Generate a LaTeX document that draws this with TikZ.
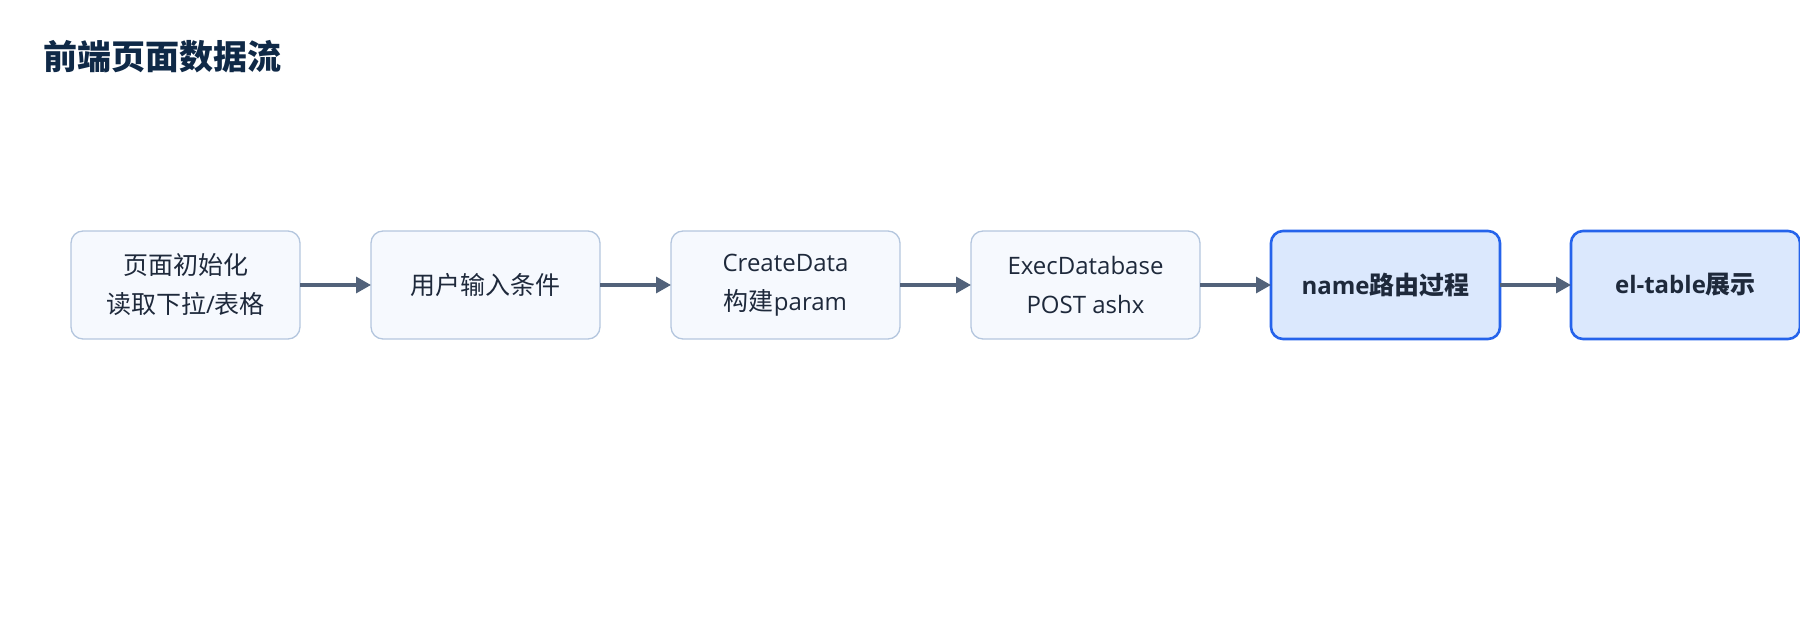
\documentclass[tikz,border=0pt]{standalone}
\usepackage{fontspec}
\setmainfont{Open Sans}
\newfontfamily\cjk{Noto Sans CJK SC}
\usetikzlibrary{positioning}
\usetikzlibrary{arrows.meta}
\definecolor{titleblue}{HTML}{0F2947}
\definecolor{ink}{HTML}{1E293B}
\definecolor{boxline}{HTML}{B4C6DE}
\definecolor{boxfill}{HTML}{F6F9FE}
\definecolor{hotline}{HTML}{2563EB}
\definecolor{hotfill}{HTML}{DBE8FD}
\definecolor{flowcol}{HTML}{52627A}
\newcommand{\zh}[1]{{\cjk\fontsize{25}{39}\selectfont #1}}

\begin{document}
\begin{tikzpicture}[x=1pt,y=-1pt,node distance=71pt,
  box/.style={draw=boxline,fill=boxfill,line width=1.3pt,rounded corners=12pt,
    minimum width=229pt,minimum height=108pt,inner sep=0pt,outer sep=0pt,
    align=center,text=ink,font=\fontsize{24}{39}\selectfont},
  hot/.style={box,draw=hotline,fill=hotfill,line width=2.6pt,
    font=\fontsize{24}{39}\bfseries\selectfont}]
  \useasboundingbox (0,0) rectangle (1800,620);
  \node (title) [anchor=base west,inner sep=0pt,text=titleblue,
    font=\fontsize{34}{40}\bfseries\cjk] at (43,70) {前端页面数据流};

  \node (init) [box] at (185.5,285) {\zh{页面初始化}\\\zh{读取下拉}/\zh{表格}};
  \node (input) [box,right=of init] {\zh{用户输入条件}};
  \node (create) [box,right=of input] {CreateData\\\zh{构建}param};
  \node (exec) [box,right=of create] {ExecDatabase\\POST ashx};
  \node (route) [hot,right=of exec] {name\zh{路由过程}};
  \node (show) [hot,right=of route] {el-table\zh{展示}};

  \path[-{Triangle[length=15pt,width=16pt]},color=flowcol,line width=3.2pt]
    (init) edge (input)
    (input) edge (create)
    (create) edge (exec)
    (exec) edge (route)
    (route) edge (show);
\end{tikzpicture}
\end{document}
